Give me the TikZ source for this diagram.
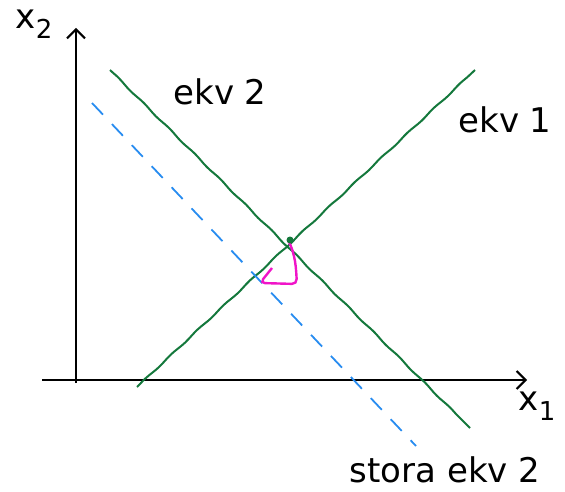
\documentclass[tikz,border=0pt]{standalone}
\usepackage{fontspec}
\setmainfont{DejaVu Sans}
\usetikzlibrary{decorations.pathmorphing,arrows.meta}
\definecolor{gline}{RGB}{20,120,60}
\definecolor{bline}{RGB}{40,140,240}
\definecolor{pline}{RGB}{240,20,200}
\tikzset{
  axis/.style={line width=2pt,black,-{Straight Barb[length=9pt,width=18pt]}},
  wavy/.style={line width=2pt,gline,decorate,decoration={snake,amplitude=0.5pt,segment length=36pt}},
  bluedash/.style={line width=1.8pt,bline,dash pattern=on 16pt off 13pt},
  pinky/.style={line width=2.4pt,pline,rounded corners=5pt},
  lbl/.style={font=\fontsize{34}{38}\selectfont,inner sep=0pt}
}
\begin{document}
\begin{tikzpicture}[x=1pt,y=-1pt]
\useasboundingbox (0,0) rectangle (565,492);
% axes
\coordinate (ytop) at (76,28);
\coordinate (ybot) at (76,383);
\coordinate (xl) at (42,380);
\coordinate (xr) at (527,380);
\draw[axis] (ybot) -- (ytop);
\draw[axis] (xl) -- (xr);
% green lines
\coordinate (a1) at (110,70);
\coordinate (a2) at (470,428);
\coordinate (b1) at (137,387);
\coordinate (b2) at (475,70);
\draw[wavy] (a1) -- (a2);
\draw[wavy] (b1) -- (b2);
% blue dashed
\coordinate (c1) at (92,103);
\coordinate (c2) at (416,446);
\draw[bluedash] (c1) -- (c2);
% pink
\coordinate (p1) at (288,240);
\coordinate (p2) at (297,284);
\coordinate (p3) at (260,283);
\coordinate (p4) at (272,268);
\draw[pinky] (p1) .. controls (296,255) and (296,270) .. (p2) -- (p3) -- (p4);
\fill[gline] (290,240) circle (3.5pt);
% labels
\node[lbl] (lx2) at (34,24) {x\raisebox{-10pt}{\fontsize{26}{30}\selectfont 2}};
\node[lbl] (le2) at (220,92) {ekv 2};
\node[lbl] (le1) at (505,120) {ekv 1};
\node[lbl] (lst) at (445,470) {stora ekv 2};
\node[lbl] (lx1) at (537,406) {x\raisebox{-10pt}{\fontsize{26}{30}\selectfont 1}};
\end{tikzpicture}
\end{document}
